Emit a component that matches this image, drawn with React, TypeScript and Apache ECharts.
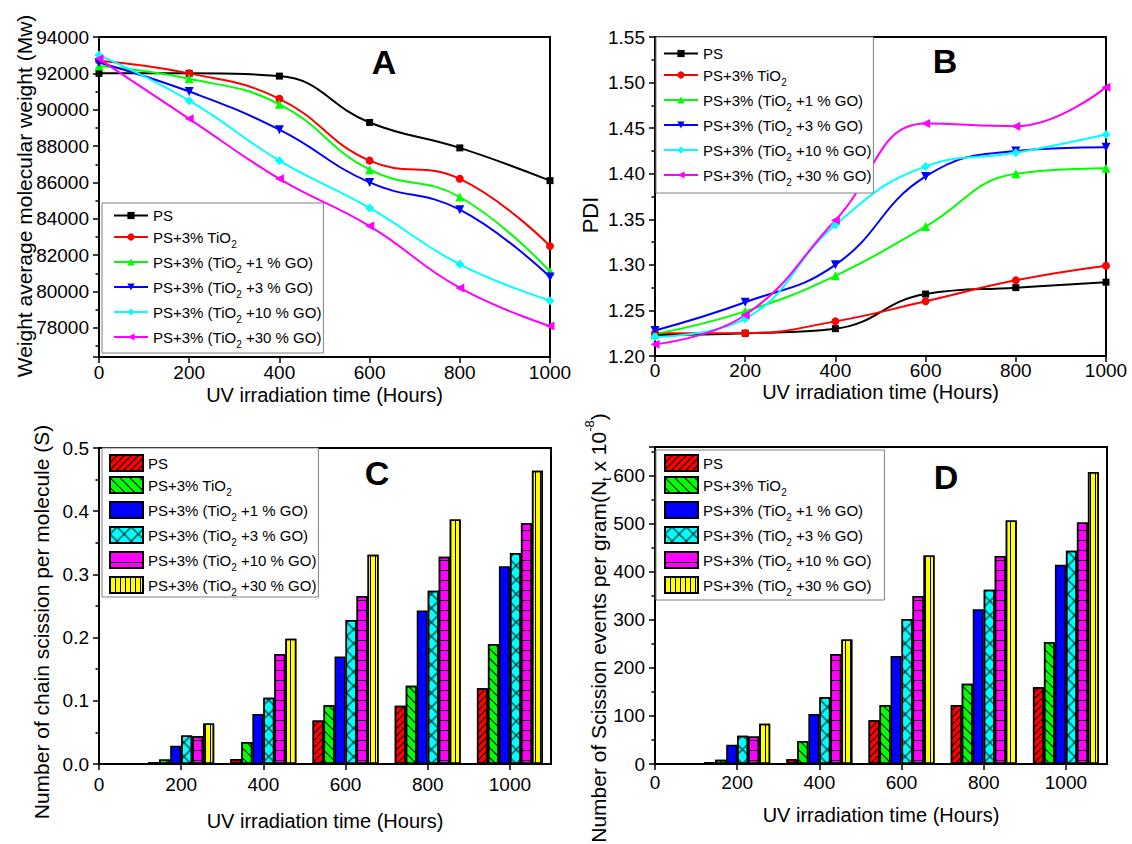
import React, { useEffect, useRef } from 'react';
import * as echarts from 'echarts';

// ---------- data ----------
const hours = [0, 200, 400, 600, 800, 1000];
const barHours = [200, 400, 600, 800, 1000];

const seriesNames = [
  'PS',
  'PS+3% TiO2',
  'PS+3% (TiO2 +1 % GO)',
  'PS+3% (TiO2 +3 % GO)',
  'PS+3% (TiO2 +10 % GO)',
  'PS+3% (TiO2 +30 % GO)',
];

// Panel A: weight average molecular weight (Mw)
const mwPS = [92000, 92000, 91850, 89300, 87900, 86100];
const mwTiO2 = [92700, 92000, 90600, 87200, 86200, 82500];
const mwGO1 = [92400, 91700, 90300, 86700, 85200, 81100];
const mwGO3 = [92600, 91000, 88900, 86000, 84500, 80800];
const mwGO10 = [93000, 90500, 87200, 84600, 81500, 79500];
const mwGO30 = [92800, 89500, 86200, 83600, 80200, 78100];

// Panel B: PDI
const pdiPS = [1.223, 1.225, 1.23, 1.268, 1.275, 1.281];
const pdiTiO2 = [1.225, 1.225, 1.238, 1.26, 1.283, 1.299];
const pdiGO1 = [1.224, 1.249, 1.288, 1.342, 1.4, 1.406];
const pdiGO3 = [1.228, 1.259, 1.3, 1.397, 1.425, 1.429];
const pdiGO10 = [1.221, 1.241, 1.344, 1.408, 1.423, 1.443];
const pdiGO30 = [1.213, 1.245, 1.349, 1.455, 1.452, 1.495];

// Panel C: chain scission per molecule (S)
const sPS = [0.003, 0.008, 0.069, 0.092, 0.12];
const sTiO2 = [0.007, 0.035, 0.093, 0.124, 0.19];
const sGO1 = [0.029, 0.079, 0.17, 0.243, 0.313];
const sGO3 = [0.045, 0.105, 0.228, 0.274, 0.334];
const sGO10 = [0.044, 0.174, 0.266, 0.328, 0.381];
const sGO30 = [0.064, 0.198, 0.331, 0.387, 0.464];

// Panel D: scission events per gram (Nt x 10^-8)
const nPS = [4, 10, 91, 123, 160];
const nTiO2 = [9, 48, 123, 167, 254];
const nGO1 = [40, 104, 225, 322, 415];
const nGO3 = [59, 139, 302, 363, 444];
const nGO10 = [57, 229, 350, 433, 503];
const nGO30 = [84, 259, 434, 507, 608];

const mwSets = [mwPS, mwTiO2, mwGO1, mwGO3, mwGO10, mwGO30];
const pdiSets = [pdiPS, pdiTiO2, pdiGO1, pdiGO3, pdiGO10, pdiGO30];
const sSets = [sPS, sTiO2, sGO1, sGO3, sGO10, sGO30];
const nSets = [nPS, nTiO2, nGO1, nGO3, nGO10, nGO30];

// axis titles / panel letters
const panelLetters = ['A', 'B', 'C', 'D'];
const xAxisTitle = 'UV irradiation time (Hours)';
const yTitleA = 'Weight average molecular weight (Mw)';
const yTitleB = 'PDI';
const yTitleC = 'Number of chain scission per molecule (S)';
const yTitleD = 'Number of Scission events per gram(N{sub|t} x 10{sup|-8})';

// ---------- styles ----------
const FONT = '"Liberation Sans", Arial, Helvetica, sans-serif';
const lineColors = ['#000000', '#ff0000', '#00ff00', '#0000ff', '#00ffff', '#ff00ff'];
const barColors = ['#ff0000', '#00ff00', '#0000ff', '#00ffff', '#ff00ff', '#ffff00'];
const lineSymbols = [
  { symbol: 'rect', size: 7, rotate: 0 },
  { symbol: 'circle', size: 8, rotate: 0 },
  { symbol: 'triangle', size: 9, rotate: 0 },
  { symbol: 'triangle', size: 9, rotate: 180 },
  { symbol: 'diamond', size: 9, rotate: 0 },
  { symbol: 'triangle', size: 9, rotate: 90 },
];
const decals: any[] = [
  { symbol: 'rect', symbolSize: 1, color: '#000', dashArrayX: [1, 0], dashArrayY: [1, 4], rotation: -Math.PI / 4 },
  { symbol: 'rect', symbolSize: 1, color: '#000', dashArrayX: [1, 0], dashArrayY: [1, 6], rotation: Math.PI / 4 },
  null,
  {
    symbol: 'path://M4.5,0H5.5V4.5H10V5.5H5.5V10H4.5V5.5H0V4.5H4.5Z',
    symbolSize: 1,
    color: '#000',
    dashArrayX: [10, 0],
    dashArrayY: [10, 0],
    rotation: Math.PI / 4,
  },
  { symbol: 'rect', symbolSize: 1, color: '#000', dashArrayX: [1, 0], dashArrayY: [1, 9] },
  { symbol: 'rect', symbolSize: 1, color: '#000', dashArrayX: [1, 4], dashArrayY: [1, 0] },
];

const tickStyle = { color: '#000', width: 1.5 };
function makeX(gridIndex: number, max: number, labelMargin: number, nameGap: number) {
  return {
    type: 'value',
    gridIndex,
    min: 0,
    max,
    interval: 200,
    name: xAxisTitle,
    nameLocation: 'middle',
    nameGap,
    nameTextStyle: { fontSize: 20, color: '#000', fontFamily: FONT },
    axisLine: { show: true, onZero: false, lineStyle: { color: '#000', width: 2 } },
    axisTick: { show: true, length: 6, lineStyle: tickStyle },
    splitLine: { show: false },
    axisLabel: {
      color: '#000',
      fontSize: 19,
      margin: labelMargin,
      showMaxLabel: max === 1000,
      fontFamily: FONT,
      formatter: (v: number) => String(v),
    },
  };
}
function makeY(gridIndex: number, extra: any) {
  return {
    type: 'value',
    gridIndex,
    axisLine: { show: true, onZero: false, lineStyle: { color: '#000', width: 2 } },
    axisTick: { show: true, length: 6, lineStyle: tickStyle },
    minorTick: { show: true, splitNumber: 2, length: 3.5, lineStyle: tickStyle },
    splitLine: { show: false },
    minorSplitLine: { show: false },
    ...extra,
    axisLabel: { color: '#000', fontSize: 19, margin: 10, fontFamily: FONT, ...(extra.axisLabel || {}) },
  };
}

const legendRich = {
  sub: { fontSize: 10, lineHeight: 24, verticalAlign: 'bottom', color: '#000', fontFamily: FONT },
};
const legendFormatter = (name: string) => name.replace('\u200b', '').replace('TiO2', 'TiO{sub|2}');
function makeLegend(left: number, top: number, padding: number[], names: string[], isBar: boolean) {
  return {
    orient: 'vertical',
    left,
    top,
    padding,
    itemGap: 1,
    itemWidth: isBar ? 33 : 34,
    itemHeight: isBar ? 16 : 9,
    ...(isBar ? { icon: 'rect' } : {}),
    selectedMode: false,
    backgroundColor: '#ffffff',
    borderColor: '#808080',
    borderWidth: 1,
    data: names,
    formatter: legendFormatter,
    textStyle: { fontSize: 15, color: '#000', lineHeight: 17, fontFamily: FONT, rich: legendRich },
  };
}

function lineSeries(sets: number[][], axis: number) {
  return sets.map((vals, i) => ({
    type: 'line',
    name: seriesNames[i],
    xAxisIndex: axis,
    yAxisIndex: axis,
    data: hours.map((h, j) => [h, vals[j]]),
    smooth: 0.45,
    symbol: lineSymbols[i].symbol,
    symbolSize: lineSymbols[i].size,
    symbolRotate: lineSymbols[i].rotate,
    lineStyle: { color: lineColors[i], width: 2 },
    itemStyle: { color: lineColors[i] },
  }));
}
function barSeries(sets: number[][], axis: number) {
  return sets.map((vals, i) => ({
    type: 'bar',
    name: seriesNames[i] + '\u200b',
    xAxisIndex: axis,
    yAxisIndex: axis,
    data: barHours.map((h, j) => [h, vals[j]]),
    barWidth: 11,
    barGap: '0%',
    itemStyle: {
      color: barColors[i],
      borderColor: '#000',
      borderWidth: 1.5,
      ...(decals[i] ? { decal: decals[i] } : {}),
    },
  }));
}

function titleText(x: number, y: number, text: string) {
  return {
    type: 'text',
    x,
    y,
    z: 100,
    style: { text, fontSize: 34, fontWeight: 'bold', fontFamily: FONT, fill: '#000', align: 'center', verticalAlign: 'middle' },
  };
}
function yTitle(x: number, y: number, text: string, size: number) {
  return {
    type: 'text',
    x,
    y,
    rotation: Math.PI / 2,
    z: 100,
    style: {
      text,
      fontSize: size,
      fontFamily: FONT,
      fill: '#000',
      align: 'center',
      verticalAlign: 'middle',
      lineHeight: 24,
      rich: {
        sub: { fontSize: 13, verticalAlign: 'bottom', lineHeight: 30, fontFamily: FONT, fill: '#000' },
        sup: { fontSize: 13, verticalAlign: 'top', lineHeight: 30, fontFamily: FONT, fill: '#000' },
      },
    },
  };
}

const gridBase = { show: true, borderColor: '#000', borderWidth: 2, backgroundColor: 'transparent' };

const option: any = {
  animation: false,
  backgroundColor: '#ffffff',
  textStyle: { fontFamily: FONT },
  grid: [
    { ...gridBase, left: 99, top: 37, width: 451, height: 320 },
    { ...gridBase, left: 655, top: 37, width: 451, height: 319 },
    { ...gridBase, left: 99, top: 448, width: 452, height: 316 },
    { ...gridBase, left: 655, top: 447, width: 452, height: 317 },
  ],
  xAxis: [makeX(0, 1000, 6, 28), makeX(1, 1000, 5, 26), makeX(2, 1100, 11, 47), makeX(3, 1100, 9, 41)],
  yAxis: [
    makeY(0, {
      min: 76400,
      max: 94000,
      minInterval: 2000,
      maxInterval: 2000,
      splitNumber: 9,
      axisLabel: { showMinLabel: false, formatter: (v: number) => String(v) },
    }),
    makeY(1, { min: 1.2, max: 1.55, interval: 0.05, axisLabel: { formatter: (v: number) => v.toFixed(2) } }),
    makeY(2, { min: 0, max: 0.5, interval: 0.1, axisLabel: { formatter: (v: number) => v.toFixed(1) } }),
    makeY(3, { min: 0, max: 660, interval: 100, axisLabel: { showMaxLabel: false, formatter: (v: number) => String(v) } }),
  ],
  legend: [
    makeLegend(102, 203, [4, 2, 4, 11], seriesNames, false),
    makeLegend(656, 37, [8, 2, 6, 7], seriesNames, false),
    makeLegend(102, 448, [6, 2, 0, 7], seriesNames.map((n) => n + '\u200b'), true),
    makeLegend(656, 450, [4, 13, 3, 8], seriesNames.map((n) => n + '\u200b'), true),
  ],
  graphic: [
    titleText(384, 62, panelLetters[0]),
    titleText(945, 61, panelLetters[1]),
    titleText(377, 473, panelLetters[2]),
    titleText(946, 477, panelLetters[3]),
    yTitle(24, 196, yTitleA, 21),
    yTitle(590, 215, yTitleB, 22),
    yTitle(41, 622, yTitleC, 21),
    yTitle(598, 628, yTitleD, 21),
  ],
  series: [
    ...lineSeries(mwSets, 0),
    ...lineSeries(pdiSets, 1),
    ...barSeries(sSets, 2),
    ...barSeries(nSets, 3),
  ],
};

export default function App() {
  const ref = useRef<HTMLDivElement>(null);
  useEffect(() => {
    if (!ref.current) return;
    const chart = echarts.init(ref.current, null, { renderer: 'svg' });
    chart.setOption(option);
    return () => chart.dispose();
  }, []);
  return (
    <div
      ref={ref}
      style={{ position: 'absolute', left: 0, top: 0, width: 1132, height: 844, background: '#fff' }}
    />
  );
}
